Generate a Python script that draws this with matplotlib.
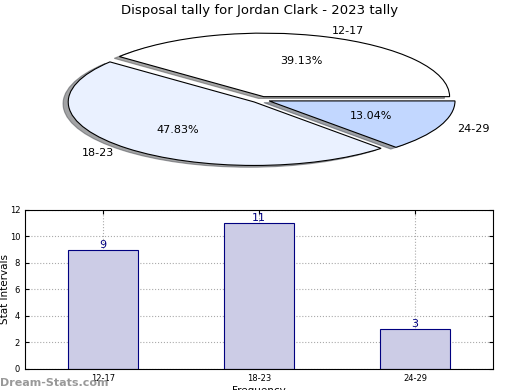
import matplotlib
matplotlib.use("Agg")
import matplotlib.pyplot as plt

title = "Disposal tally for Jordan Clark - 2023 tally"
labels = ["12-17", "18-23", "24-29"]
counts = [9, 11, 3]
pie_colors = ["#ffffff", "#eaf1ff", "#c2d7ff"]

fig = plt.figure(figsize=(5.2, 3.9), dpi=100)

# pie on top, stretched into an ellipse
ax1 = fig.add_axes([0.054, 0.541, 0.894, 0.407])
wedges, texts, autotexts = ax1.pie(counts, labels=labels, colors=pie_colors,
                                   explode=[0.05, 0.05, 0.05], autopct="%.2f%%",
                                   shadow=True, startangle=0,
                                   wedgeprops=dict(edgecolor="black", linewidth=0.8),
                                   textprops=dict(fontsize=8))
ax1.set_aspect("auto")
ax1.set_xlim(-1.25, 1.25)
ax1.set_ylim(-1.25, 1.25)
fig.text(0.5, 0.972, title, ha="center", va="center", fontsize=9.5)

# bar chart below
ax2 = fig.add_axes([0.048, 0.054, 0.9, 0.408])
x = range(len(labels))
ax2.bar(x, counts, width=0.45, color="#ccccE6", edgecolor="#000080", linewidth=0.8)
for i, c in zip(x, counts):
    ax2.text(i, c, str(c), ha="center", va="bottom", color="#000080", fontsize=8)
ax2.set_xlim(-0.5, 2.5)
ax2.set_ylim(0, 12)
ax2.set_xticks(list(x))
ax2.set_xticklabels(labels)
ax2.set_yticks(range(0, 13, 2))
ax2.tick_params(labelsize=6, direction="in", top=True, right=True, length=3)
ax2.grid(True, linestyle=":", color="#aaaaaa", linewidth=0.8)
ax2.set_axisbelow(True)
ax2.set_ylabel("Stat Intervals", fontsize=7.5)
ax2.yaxis.set_label_coords(-0.031, 0.5)
ax2.set_xlabel("Frequency", fontsize=7.5, labelpad=2)

fig.text(0.0, 0.01, "Dream-Stats.com", color="#999999", fontsize=8, fontweight="bold")

fig.savefig("out.png", dpi=100)
